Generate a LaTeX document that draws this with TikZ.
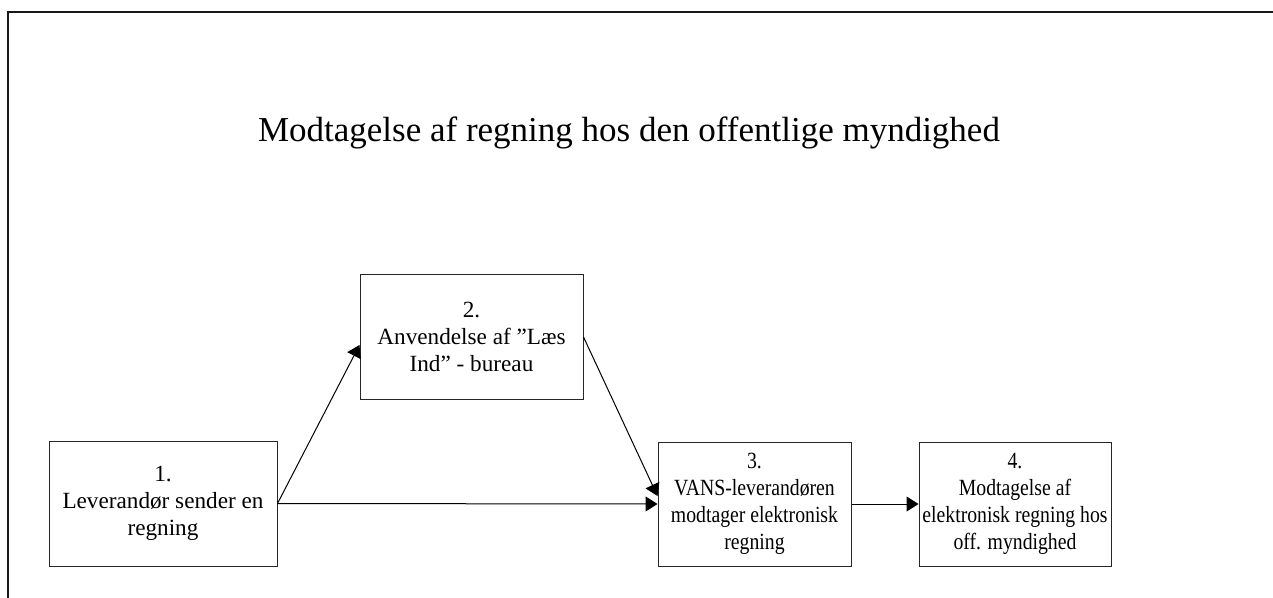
\documentclass[tikz,border=0pt]{standalone}
\usepackage{fontspec}
\setmainfont{Liberation Serif}
\newfontfamily\narrowserif[FakeStretch=0.85]{Liberation Serif}
\usetikzlibrary{arrows.meta}

\begin{document}
\begin{tikzpicture}[x = 0.5pt, y = -0.5pt,
        box/.style = {draw=black!85, line width=0.5pt, align=center, inner sep=0pt,
            font=\fontsize{11.6pt}{13.5pt}\selectfont},
        narrowbox/.style = {box, font=\narrowserif\fontsize{11.6pt}{13.5pt}\selectfont},
        flow/.style = {line width=0.5pt, -{Triangle[length=6pt, width=7.5pt]}}]

        \useasboundingbox (0, 0) rectangle (1273, 598);

        % frame
        \draw[line width=0.8pt, black!90] (8, 598) -- (8, 12) -- (1273, 12);

        \node[anchor=base, font=\fontsize{17.5pt}{20pt}\selectfont] (title) at (629, 142)
            {Modtagelse af regning hos den offentlige myndighed};

        \node[box, minimum width=114pt, minimum height=62.5pt] (step1) at (163, 503.5)
            {1.\\ Leverandør sender en\\ regning};
        \node[box, minimum width=111.5pt, minimum height=62pt] (step2) at (471.5, 337)
            {2.\\ Anvendelse af ”Læs\\ Ind” - bureau};
        \node[narrowbox, minimum width=96.5pt, minimum height=62pt] (step3) at (754.5, 504)
            {3.\\ VANS-leverandøren\\ modtager elektronisk\\ regning};
        \node[narrowbox, minimum width=96pt, minimum height=62pt] (step4) at (1015, 504)
            {4.\\ Modtagelse af\\ elektronisk regning hos\\ off. myndighed};

        \draw[flow] (step1.east) -- ([yshift=-4pt]step2.west);
        \draw[flow] (step2.east) -- ([yshift=4pt]step3.west);
        \draw[flow] (step1.east) -- (step3.west);
        \draw[flow] (step3.east) -- (step4.west);

    \end{tikzpicture}
\end{document}
